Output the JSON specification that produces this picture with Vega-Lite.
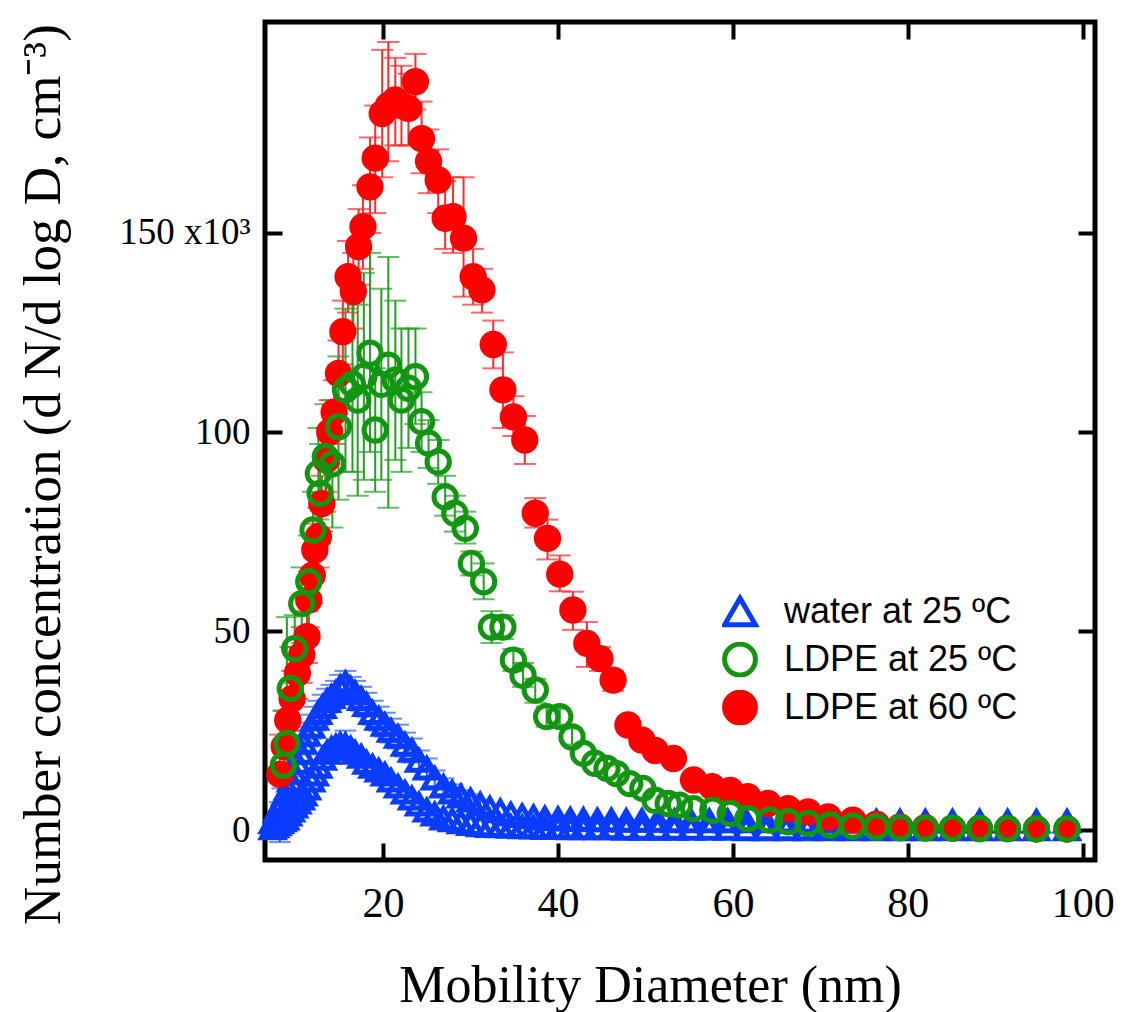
{
 "$schema": "https://vega.github.io/schema/vega-lite/v6.json",
 "width": 830,
 "height": 838,
 "autosize": "none",
 "padding": {"left": 265, "top": 22, "right": 28, "bottom": 152},
 "background": "white",
 "data": {"values": [
  {"s":"water at 25 ºC","x":7.37,"v":2},
  {"s":"water at 25 ºC","x":7.64,"v":3},
  {"s":"water at 25 ºC","x":7.91,"v":5},
  {"s":"water at 25 ºC","x":8.2,"v":6},
  {"s":"water at 25 ºC","x":8.51,"v":7.5,"lo":4.5,"hi":10.5},
  {"s":"water at 25 ºC","x":8.82,"v":9},
  {"s":"water at 25 ºC","x":9.14,"v":10.5,"lo":7.5,"hi":13.5},
  {"s":"water at 25 ºC","x":9.47,"v":12.5},
  {"s":"water at 25 ºC","x":9.82,"v":14.5,"lo":11.5,"hi":17.5},
  {"s":"water at 25 ºC","x":10.2,"v":17,"lo":14,"hi":20},
  {"s":"water at 25 ºC","x":10.6,"v":19.5,"lo":16.5,"hi":22.5},
  {"s":"water at 25 ºC","x":10.9,"v":22,"lo":19,"hi":25},
  {"s":"water at 25 ºC","x":11.3,"v":24,"lo":21,"hi":27},
  {"s":"water at 25 ºC","x":11.8,"v":26,"lo":23,"hi":29},
  {"s":"water at 25 ºC","x":12.2,"v":28,"lo":25,"hi":31},
  {"s":"water at 25 ºC","x":12.6,"v":29.5,"lo":26.5,"hi":32.5},
  {"s":"water at 25 ºC","x":13.1,"v":31,"lo":28,"hi":34},
  {"s":"water at 25 ºC","x":13.6,"v":32.5,"lo":29.5,"hi":35.5},
  {"s":"water at 25 ºC","x":14.1,"v":33.5,"lo":30.5,"hi":36.5},
  {"s":"water at 25 ºC","x":14.6,"v":34.5,"lo":31.5,"hi":37.5},
  {"s":"water at 25 ºC","x":15.1,"v":36,"lo":33,"hi":39},
  {"s":"water at 25 ºC","x":15.7,"v":37,"lo":34,"hi":40},
  {"s":"water at 25 ºC","x":16.3,"v":35.5,"lo":32.5,"hi":38.5},
  {"s":"water at 25 ºC","x":16.8,"v":34.5,"lo":31.5,"hi":37.5},
  {"s":"water at 25 ºC","x":17.5,"v":33,"lo":30,"hi":36},
  {"s":"water at 25 ºC","x":18.1,"v":31.5,"lo":28.5,"hi":34.5},
  {"s":"water at 25 ºC","x":18.8,"v":29.5,"lo":26.5,"hi":32.5},
  {"s":"water at 25 ºC","x":19.5,"v":28,"lo":25,"hi":31},
  {"s":"water at 25 ºC","x":20.2,"v":26.5,"lo":23.5,"hi":29.5},
  {"s":"water at 25 ºC","x":20.9,"v":25,"lo":22,"hi":28},
  {"s":"water at 25 ºC","x":21.7,"v":23.5,"lo":20.5,"hi":26.5},
  {"s":"water at 25 ºC","x":22.5,"v":21.5,"lo":18.5,"hi":24.5},
  {"s":"water at 25 ºC","x":23.3,"v":20,"lo":17,"hi":23},
  {"s":"water at 25 ºC","x":24.1,"v":17.5,"lo":15,"hi":20},
  {"s":"water at 25 ºC","x":25.0,"v":15.5,"lo":13,"hi":18},
  {"s":"water at 25 ºC","x":25.9,"v":13,"lo":11,"hi":15},
  {"s":"water at 25 ºC","x":26.9,"v":11,"lo":9,"hi":13},
  {"s":"water at 25 ºC","x":27.9,"v":9.5,"lo":7.5,"hi":11.5},
  {"s":"water at 25 ºC","x":28.9,"v":8.5,"lo":7,"hi":10},
  {"s":"water at 25 ºC","x":30.0,"v":7.5,"lo":6,"hi":9},
  {"s":"water at 25 ºC","x":31.1,"v":6.5,"lo":5.5,"hi":7.5},
  {"s":"water at 25 ºC","x":32.2,"v":5.5},
  {"s":"water at 25 ºC","x":33.4,"v":4.8},
  {"s":"water at 25 ºC","x":34.6,"v":4},
  {"s":"water at 25 ºC","x":35.9,"v":3.6},
  {"s":"water at 25 ºC","x":37.2,"v":3.3},
  {"s":"water at 25 ºC","x":38.5,"v":3},
  {"s":"water at 25 ºC","x":40.0,"v":2.8},
  {"s":"water at 25 ºC","x":41.4,"v":2.7},
  {"s":"water at 25 ºC","x":42.9,"v":2.6},
  {"s":"water at 25 ºC","x":44.5,"v":2.5},
  {"s":"water at 25 ºC","x":46.1,"v":2.5},
  {"s":"water at 25 ºC","x":47.8,"v":2.4},
  {"s":"water at 25 ºC","x":49.6,"v":2.4},
  {"s":"water at 25 ºC","x":51.4,"v":2.4},
  {"s":"water at 25 ºC","x":53.3,"v":2.3},
  {"s":"water at 25 ºC","x":55.2,"v":2.3},
  {"s":"water at 25 ºC","x":57.3,"v":2.3},
  {"s":"water at 25 ºC","x":59.4,"v":2.3},
  {"s":"water at 25 ºC","x":61.5,"v":2.3},
  {"s":"water at 25 ºC","x":63.8,"v":2.3},
  {"s":"water at 25 ºC","x":66.1,"v":2.2},
  {"s":"water at 25 ºC","x":68.5,"v":2.2},
  {"s":"water at 25 ºC","x":71.0,"v":2.2},
  {"s":"water at 25 ºC","x":73.7,"v":2.2},
  {"s":"water at 25 ºC","x":76.4,"v":2.2},
  {"s":"water at 25 ºC","x":79.1,"v":2.2},
  {"s":"water at 25 ºC","x":82.0,"v":2.2},
  {"s":"water at 25 ºC","x":85.1,"v":2.2},
  {"s":"water at 25 ºC","x":88.2,"v":2.2},
  {"s":"water at 25 ºC","x":91.4,"v":2.2},
  {"s":"water at 25 ºC","x":94.7,"v":2.2},
  {"s":"water at 25 ºC","x":98.2,"v":2.2},
  {"s":"water at 25 ºC","x":7.37,"v":0.5},
  {"s":"water at 25 ºC","x":7.64,"v":1},
  {"s":"water at 25 ºC","x":7.91,"v":1.5},
  {"s":"water at 25 ºC","x":8.2,"v":2,"lo":-3,"hi":7},
  {"s":"water at 25 ºC","x":8.51,"v":2.5},
  {"s":"water at 25 ºC","x":8.82,"v":3},
  {"s":"water at 25 ºC","x":9.14,"v":4},
  {"s":"water at 25 ºC","x":9.47,"v":5},
  {"s":"water at 25 ºC","x":9.82,"v":6},
  {"s":"water at 25 ºC","x":10.2,"v":7},
  {"s":"water at 25 ºC","x":10.6,"v":8},
  {"s":"water at 25 ºC","x":10.9,"v":9},
  {"s":"water at 25 ºC","x":11.3,"v":10.5},
  {"s":"water at 25 ºC","x":11.8,"v":12.5},
  {"s":"water at 25 ºC","x":12.2,"v":14},
  {"s":"water at 25 ºC","x":12.6,"v":16},
  {"s":"water at 25 ºC","x":13.1,"v":18},
  {"s":"water at 25 ºC","x":13.6,"v":19.5},
  {"s":"water at 25 ºC","x":14.1,"v":20.5},
  {"s":"water at 25 ºC","x":14.6,"v":21},
  {"s":"water at 25 ºC","x":15.1,"v":21.5},
  {"s":"water at 25 ºC","x":15.7,"v":21.4,"lo":18,"hi":25},
  {"s":"water at 25 ºC","x":16.3,"v":20.5},
  {"s":"water at 25 ºC","x":16.8,"v":19.5},
  {"s":"water at 25 ºC","x":17.5,"v":18.5},
  {"s":"water at 25 ºC","x":18.1,"v":17},
  {"s":"water at 25 ºC","x":18.8,"v":16},
  {"s":"water at 25 ºC","x":19.5,"v":15},
  {"s":"water at 25 ºC","x":20.2,"v":14},
  {"s":"water at 25 ºC","x":20.9,"v":12.5},
  {"s":"water at 25 ºC","x":21.7,"v":11},
  {"s":"water at 25 ºC","x":22.5,"v":9.5},
  {"s":"water at 25 ºC","x":23.3,"v":8},
  {"s":"water at 25 ºC","x":24.1,"v":6.5},
  {"s":"water at 25 ºC","x":25.0,"v":5},
  {"s":"water at 25 ºC","x":25.9,"v":4},
  {"s":"water at 25 ºC","x":26.9,"v":3},
  {"s":"water at 25 ºC","x":27.9,"v":2.5},
  {"s":"water at 25 ºC","x":28.9,"v":2},
  {"s":"water at 25 ºC","x":30.0,"v":1.6},
  {"s":"water at 25 ºC","x":31.1,"v":1.3},
  {"s":"water at 25 ºC","x":32.2,"v":1.1},
  {"s":"water at 25 ºC","x":33.4,"v":1},
  {"s":"water at 25 ºC","x":34.6,"v":0.9},
  {"s":"water at 25 ºC","x":35.9,"v":0.8},
  {"s":"water at 25 ºC","x":37.2,"v":0.7},
  {"s":"water at 25 ºC","x":38.5,"v":0.6},
  {"s":"water at 25 ºC","x":40.0,"v":0.6},
  {"s":"water at 25 ºC","x":41.4,"v":0.5},
  {"s":"water at 25 ºC","x":42.9,"v":0.5},
  {"s":"water at 25 ºC","x":44.5,"v":0.5},
  {"s":"water at 25 ºC","x":46.1,"v":0.5},
  {"s":"water at 25 ºC","x":47.8,"v":0.4},
  {"s":"water at 25 ºC","x":49.6,"v":0.4},
  {"s":"water at 25 ºC","x":51.4,"v":0.4},
  {"s":"water at 25 ºC","x":53.3,"v":0.4},
  {"s":"water at 25 ºC","x":55.2,"v":0.4},
  {"s":"water at 25 ºC","x":57.3,"v":0.4},
  {"s":"water at 25 ºC","x":59.4,"v":0.4},
  {"s":"water at 25 ºC","x":61.5,"v":0.3},
  {"s":"water at 25 ºC","x":63.8,"v":0.3},
  {"s":"water at 25 ºC","x":66.1,"v":0.3},
  {"s":"water at 25 ºC","x":68.5,"v":0.3},
  {"s":"water at 25 ºC","x":71.0,"v":0.3},
  {"s":"water at 25 ºC","x":73.7,"v":0.3},
  {"s":"water at 25 ºC","x":76.4,"v":0.3},
  {"s":"water at 25 ºC","x":79.1,"v":0.3},
  {"s":"water at 25 ºC","x":82.0,"v":0.3},
  {"s":"water at 25 ºC","x":85.1,"v":0.3},
  {"s":"water at 25 ºC","x":88.2,"v":0.3},
  {"s":"water at 25 ºC","x":91.4,"v":0.3},
  {"s":"water at 25 ºC","x":94.7,"v":0.3},
  {"s":"water at 25 ºC","x":98.2,"v":0.3},
  {"s":"LDPE at 60 ºC","x":8.2,"v":14,"lo":2,"hi":24},
  {"s":"LDPE at 60 ºC","x":8.7,"v":21,"lo":12,"hi":30},
  {"s":"LDPE at 60 ºC","x":9.1,"v":27.6,"lo":20,"hi":35},
  {"s":"LDPE at 60 ºC","x":9.6,"v":33,"lo":26,"hi":40},
  {"s":"LDPE at 60 ºC","x":10.2,"v":39.4,"lo":33,"hi":46},
  {"s":"LDPE at 60 ºC","x":10.7,"v":44,"lo":37,"hi":51},
  {"s":"LDPE at 60 ºC","x":11.3,"v":48.6,"lo":42,"hi":55},
  {"s":"LDPE at 60 ºC","x":11.5,"v":57.8,"lo":51,"hi":65},
  {"s":"LDPE at 60 ºC","x":11.9,"v":64,"lo":57,"hi":71},
  {"s":"LDPE at 60 ºC","x":12.2,"v":70.4,"lo":64,"hi":77},
  {"s":"LDPE at 60 ºC","x":12.6,"v":73.7,"lo":66,"hi":81},
  {"s":"LDPE at 60 ºC","x":13.0,"v":82,"lo":75,"hi":89},
  {"s":"LDPE at 60 ºC","x":13.5,"v":93,"lo":85,"hi":101},
  {"s":"LDPE at 60 ºC","x":13.9,"v":100,"lo":92,"hi":108},
  {"s":"LDPE at 60 ºC","x":14.4,"v":105,"lo":97,"hi":113},
  {"s":"LDPE at 60 ºC","x":14.9,"v":114.7,"lo":106,"hi":123},
  {"s":"LDPE at 60 ºC","x":15.4,"v":125.2,"lo":117,"hi":133},
  {"s":"LDPE at 60 ºC","x":16.0,"v":139,"lo":130,"hi":148},
  {"s":"LDPE at 60 ºC","x":16.6,"v":135.3,"lo":126,"hi":145},
  {"s":"LDPE at 60 ºC","x":17.2,"v":146.6,"lo":137,"hi":156},
  {"s":"LDPE at 60 ºC","x":17.7,"v":151.6,"lo":141,"hi":162},
  {"s":"LDPE at 60 ºC","x":18.5,"v":161.6,"lo":150,"hi":174},
  {"s":"LDPE at 60 ºC","x":19.1,"v":168.8,"lo":155,"hi":182},
  {"s":"LDPE at 60 ºC","x":19.9,"v":180,"lo":164,"hi":196},
  {"s":"LDPE at 60 ºC","x":20.6,"v":182,"lo":168,"hi":198},
  {"s":"LDPE at 60 ºC","x":21.4,"v":183.4,"lo":172,"hi":194},
  {"s":"LDPE at 60 ºC","x":22.1,"v":182,"lo":172,"hi":192},
  {"s":"LDPE at 60 ºC","x":22.9,"v":181.3,"lo":172,"hi":190},
  {"s":"LDPE at 60 ºC","x":23.7,"v":188,"lo":181,"hi":195},
  {"s":"LDPE at 60 ºC","x":24.4,"v":173.7,"lo":165,"hi":183},
  {"s":"LDPE at 60 ºC","x":25.2,"v":168,"lo":160,"hi":176},
  {"s":"LDPE at 60 ºC","x":26.3,"v":163.3,"lo":155,"hi":171},
  {"s":"LDPE at 60 ºC","x":27.1,"v":153.7,"lo":146,"hi":163},
  {"s":"LDPE at 60 ºC","x":28.0,"v":154.1,"lo":145,"hi":164},
  {"s":"LDPE at 60 ºC","x":29.2,"v":148.7,"lo":134,"hi":164},
  {"s":"LDPE at 60 ºC","x":30.3,"v":139,"lo":132,"hi":146},
  {"s":"LDPE at 60 ºC","x":31.3,"v":135.7,"lo":130,"hi":141},
  {"s":"LDPE at 60 ºC","x":32.6,"v":122,"lo":116,"hi":128},
  {"s":"LDPE at 60 ºC","x":33.7,"v":110.6,"lo":101,"hi":120},
  {"s":"LDPE at 60 ºC","x":34.9,"v":103.8,"lo":99,"hi":109},
  {"s":"LDPE at 60 ºC","x":36.2,"v":98,"lo":92,"hi":104},
  {"s":"LDPE at 60 ºC","x":37.4,"v":79.6,"lo":76,"hi":83.4},
  {"s":"LDPE at 60 ºC","x":38.8,"v":73.3,"lo":68,"hi":78},
  {"s":"LDPE at 60 ºC","x":40.2,"v":64.3,"lo":60,"hi":69},
  {"s":"LDPE at 60 ºC","x":41.7,"v":55.3,"lo":50.3,"hi":59.9},
  {"s":"LDPE at 60 ºC","x":43.3,"v":46.9,"lo":41,"hi":52.3},
  {"s":"LDPE at 60 ºC","x":44.8,"v":43.1,"lo":40,"hi":46},
  {"s":"LDPE at 60 ºC","x":46.3,"v":37.7,"lo":35,"hi":40},
  {"s":"LDPE at 60 ºC","x":48.0,"v":26.4,"lo":24.5,"hi":28.5},
  {"s":"LDPE at 60 ºC","x":49.6,"v":22.6},
  {"s":"LDPE at 60 ºC","x":51.1,"v":20},
  {"s":"LDPE at 60 ºC","x":53.2,"v":18},
  {"s":"LDPE at 60 ºC","x":55.5,"v":12.6},
  {"s":"LDPE at 60 ºC","x":57.6,"v":10.9},
  {"s":"LDPE at 60 ºC","x":59.7,"v":10},
  {"s":"LDPE at 60 ºC","x":61.7,"v":8.4},
  {"s":"LDPE at 60 ºC","x":64.0,"v":6.7},
  {"s":"LDPE at 60 ºC","x":66.3,"v":5.4},
  {"s":"LDPE at 60 ºC","x":68.6,"v":4.6},
  {"s":"LDPE at 60 ºC","x":70.9,"v":3.3},
  {"s":"LDPE at 60 ºC","x":73.7,"v":2.5},
  {"s":"LDPE at 60 ºC","x":76.4,"v":1.5},
  {"s":"LDPE at 60 ºC","x":79.1,"v":0.8},
  {"s":"LDPE at 60 ºC","x":82.0,"v":0.6},
  {"s":"LDPE at 60 ºC","x":85.1,"v":0.5},
  {"s":"LDPE at 60 ºC","x":88.2,"v":0.4},
  {"s":"LDPE at 60 ºC","x":91.4,"v":0.4},
  {"s":"LDPE at 60 ºC","x":94.7,"v":0.3},
  {"s":"LDPE at 60 ºC","x":98.2,"v":0.3},
  {"s":"LDPE at 25 ºC","x":8.6,"v":16.3,"lo":2,"hi":30},
  {"s":"LDPE at 25 ºC","x":9.0,"v":21.8,"lo":1.3,"hi":53.5},
  {"s":"LDPE at 25 ºC","x":9.4,"v":35.6,"lo":25,"hi":46},
  {"s":"LDPE at 25 ºC","x":9.9,"v":45.6,"lo":37,"hi":54},
  {"s":"LDPE at 25 ºC","x":10.7,"v":56.9,"lo":47,"hi":66},
  {"s":"LDPE at 25 ºC","x":11.5,"v":62.4,"lo":50,"hi":74},
  {"s":"LDPE at 25 ºC","x":12.0,"v":75.4,"lo":66,"hi":85},
  {"s":"LDPE at 25 ºC","x":12.6,"v":89.6,"lo":78,"hi":101},
  {"s":"LDPE at 25 ºC","x":12.8,"v":84.6,"lo":72,"hi":97},
  {"s":"LDPE at 25 ºC","x":13.4,"v":93.8,"lo":80,"hi":107},
  {"s":"LDPE at 25 ºC","x":14.2,"v":92,"lo":76,"hi":108},
  {"s":"LDPE at 25 ºC","x":14.9,"v":101.3,"lo":83,"hi":119},
  {"s":"LDPE at 25 ºC","x":15.7,"v":110.6,"lo":90,"hi":131},
  {"s":"LDPE at 25 ºC","x":16.5,"v":112,"lo":90,"hi":134},
  {"s":"LDPE at 25 ºC","x":17.1,"v":108,"lo":84,"hi":132},
  {"s":"LDPE at 25 ºC","x":17.8,"v":114,"lo":88,"hi":140},
  {"s":"LDPE at 25 ºC","x":18.5,"v":119.8,"lo":95,"hi":145},
  {"s":"LDPE at 25 ºC","x":19.1,"v":100.5,"lo":85,"hi":116},
  {"s":"LDPE at 25 ºC","x":19.8,"v":112,"lo":88,"hi":136},
  {"s":"LDPE at 25 ºC","x":20.6,"v":116.8,"lo":81,"hi":144},
  {"s":"LDPE at 25 ºC","x":21.4,"v":113,"lo":93,"hi":133},
  {"s":"LDPE at 25 ºC","x":22.1,"v":108,"lo":90,"hi":126},
  {"s":"LDPE at 25 ºC","x":22.9,"v":111,"lo":96,"hi":126},
  {"s":"LDPE at 25 ºC","x":23.7,"v":113.9,"lo":102,"hi":126},
  {"s":"LDPE at 25 ºC","x":24.4,"v":102.6,"lo":95,"hi":110},
  {"s":"LDPE at 25 ºC","x":25.2,"v":97.2,"lo":91,"hi":103},
  {"s":"LDPE at 25 ºC","x":26.3,"v":92.5,"lo":87,"hi":98},
  {"s":"LDPE at 25 ºC","x":27.1,"v":83.7,"lo":79,"hi":89},
  {"s":"LDPE at 25 ºC","x":28.2,"v":79.6,"lo":75,"hi":84},
  {"s":"LDPE at 25 ºC","x":29.4,"v":75.8,"lo":72,"hi":80},
  {"s":"LDPE at 25 ºC","x":30.1,"v":67,"lo":64,"hi":70},
  {"s":"LDPE at 25 ºC","x":31.5,"v":62.4,"lo":58,"hi":67},
  {"s":"LDPE at 25 ºC","x":32.4,"v":51,"lo":47,"hi":55},
  {"s":"LDPE at 25 ºC","x":33.7,"v":51,"lo":48,"hi":54},
  {"s":"LDPE at 25 ºC","x":34.9,"v":42.7,"lo":40,"hi":45.5},
  {"s":"LDPE at 25 ºC","x":36.0,"v":38.9,"lo":36,"hi":42},
  {"s":"LDPE at 25 ºC","x":37.4,"v":35.2,"lo":32,"hi":38},
  {"s":"LDPE at 25 ºC","x":38.7,"v":28.5,"lo":26,"hi":31},
  {"s":"LDPE at 25 ºC","x":40.2,"v":28.5,"lo":26.5,"hi":30.5},
  {"s":"LDPE at 25 ºC","x":41.6,"v":23.4,"lo":21.5,"hi":25.5},
  {"s":"LDPE at 25 ºC","x":42.9,"v":19.3},
  {"s":"LDPE at 25 ºC","x":44.2,"v":16.8},
  {"s":"LDPE at 25 ºC","x":45.6,"v":15.5},
  {"s":"LDPE at 25 ºC","x":46.7,"v":14.2},
  {"s":"LDPE at 25 ºC","x":48.2,"v":11.7},
  {"s":"LDPE at 25 ºC","x":49.7,"v":10.5},
  {"s":"LDPE at 25 ºC","x":51.1,"v":7.5},
  {"s":"LDPE at 25 ºC","x":52.6,"v":6.7},
  {"s":"LDPE at 25 ºC","x":53.9,"v":6.3},
  {"s":"LDPE at 25 ºC","x":55.5,"v":5.4},
  {"s":"LDPE at 25 ºC","x":57.7,"v":5},
  {"s":"LDPE at 25 ºC","x":59.7,"v":4.2},
  {"s":"LDPE at 25 ºC","x":61.7,"v":2.9},
  {"s":"LDPE at 25 ºC","x":64.2,"v":2.5},
  {"s":"LDPE at 25 ºC","x":66.3,"v":2.1},
  {"s":"LDPE at 25 ºC","x":68.6,"v":1.7},
  {"s":"LDPE at 25 ºC","x":71.1,"v":1.3},
  {"s":"LDPE at 25 ºC","x":73.7,"v":1.0},
  {"s":"LDPE at 25 ºC","x":76.4,"v":0.8},
  {"s":"LDPE at 25 ºC","x":79.1,"v":0.6},
  {"s":"LDPE at 25 ºC","x":82.0,"v":0.5},
  {"s":"LDPE at 25 ºC","x":85.1,"v":0.5},
  {"s":"LDPE at 25 ºC","x":88.2,"v":0.4},
  {"s":"LDPE at 25 ºC","x":91.4,"v":0.4},
  {"s":"LDPE at 25 ºC","x":94.7,"v":0.3},
  {"s":"LDPE at 25 ºC","x":98.2,"v":0.3}
 ]},
 "layer": [
  {
   "transform": [{"filter": "isValid(datum.lo)"}],
   "mark": {"type": "errorbar", "ticks": {"size": 22, "thickness": 2}, "thickness": 2},
   "encoding": {
    "x": {"field": "x", "type": "quantitative", "scale": {"domain": [6.5, 101.4], "nice": false, "zero": false}, "axis": null},
    "y": {"field": "lo", "type": "quantitative", "scale": {"domain": [-7.5, 203], "nice": false, "zero": false}, "axis": null},
    "y2": {"field": "hi"},
    "color": {"field": "s", "type": "nominal", "scale": {"domain": ["LDPE at 60 ºC", "LDPE at 25 ºC", "water at 25 ºC"], "range": ["#ff2a2a", "#22a022", "#2a5cff"]}, "legend": null}
   }
  },
  {
   "mark": {"type": "point", "filled": true, "opacity": 1, "strokeWidth": 5},
   "encoding": {
    "x": {"field": "x", "type": "quantitative", "scale": {"domain": [6.5, 101.4], "nice": false, "zero": false},
     "axis": {"orient": "bottom", "values": [20, 40, 60, 80, 100], "labelPadding": 40, "labelFontSize": 42, "title": "Mobility Diameter (nm)", "titleFontSize": 52, "titleX": 385, "titleY": 125, "titleBaseline": "middle", "titleAlign": "center", "titleAnchor": null}},
    "y": {"field": "v", "type": "quantitative", "scale": {"domain": [-7.5, 203], "nice": false, "zero": false},
     "axis": {"orient": "left", "values": [0, 50, 100, 150], "labelPadding": 32, "labelFontSize": 37, "labelExpr": "datum.value == 150 ? '150 x10³' : datum.label", "title": "Number concentration (d N/d log D, cm⁻³)", "titleFontSize": 53, "titleX": -222, "titleY": 452, "titleAngle": -90, "titleBaseline": "middle", "titleAlign": "center", "titleAnchor": null}},
    "size": {"field": "s", "type": "nominal", "scale": {"domain": ["LDPE at 25 ºC", "LDPE at 60 ºC", "water at 25 ºC"], "range": [500, 500, 560]}, "legend": null},
    "shape": {"field": "s", "type": "nominal", "scale": {"domain": ["water at 25 ºC", "LDPE at 25 ºC", "LDPE at 60 ºC"], "range": ["triangle-up", "circle", "circle"]},
     "legend": {"title": null, "orient": "none", "legendX": 457, "legendY": 572, "padding": 0, "labelFont": "Liberation Sans", "labelFontSize": 36, "labelLimit": 0, "labelColor": "black", "symbolSize": 950, "symbolStrokeWidth": 5, "labelOffset": 26, "rowPadding": 11, "clipHeight": 35}},
    "stroke": {"field": "s", "type": "nominal", "scale": {"domain": ["water at 25 ºC", "LDPE at 25 ºC", "LDPE at 60 ºC"], "range": ["#0a3cff", "#129612", "#ff0000"]},
     "legend": {"title": null, "orient": "none", "legendX": 457, "legendY": 572, "padding": 0, "labelFont": "Liberation Sans", "labelFontSize": 36, "labelLimit": 0, "labelColor": "black", "symbolSize": 950, "symbolStrokeWidth": 5, "labelOffset": 26, "rowPadding": 11, "clipHeight": 35}},
    "fill": {"field": "s", "type": "nominal", "scale": {"domain": ["water at 25 ºC", "LDPE at 25 ºC", "LDPE at 60 ºC"], "range": ["transparent", "transparent", "#ff0000"]},
     "legend": {"title": null, "orient": "none", "legendX": 457, "legendY": 572, "padding": 0, "labelFont": "Liberation Sans", "labelFontSize": 36, "labelLimit": 0, "labelColor": "black", "symbolSize": 950, "symbolStrokeWidth": 5, "labelOffset": 26, "rowPadding": 11, "clipHeight": 35}}
   }
  },
  {
   "mark": {"type": "point", "opacity": 0},
   "encoding": {
    "x": {"field": "x", "type": "quantitative", "scale": {"domain": [6.5, 101.4], "nice": false, "zero": false},
     "axis": {"orient": "top", "values": [20, 40, 60, 80, 100], "labels": false, "title": null}},
    "y": {"field": "v", "type": "quantitative", "scale": {"domain": [-7.5, 203], "nice": false, "zero": false},
     "axis": {"orient": "right", "values": [0, 50, 100, 150], "labels": false, "title": null}}
   }
  }
 ],
 "resolve": {"axis": {"x": "independent", "y": "independent"}},
 "config": {
  "view": {"stroke": "black", "strokeWidth": 5},
  "axis": {"domain": false, "grid": false, "tickColor": "black", "tickWidth": 4, "tickSize": -17, "labelColor": "black", "titleColor": "black", "labelFont": "Liberation Serif", "titleFont": "Liberation Serif", "titleFontWeight": "normal"}
 }
}
